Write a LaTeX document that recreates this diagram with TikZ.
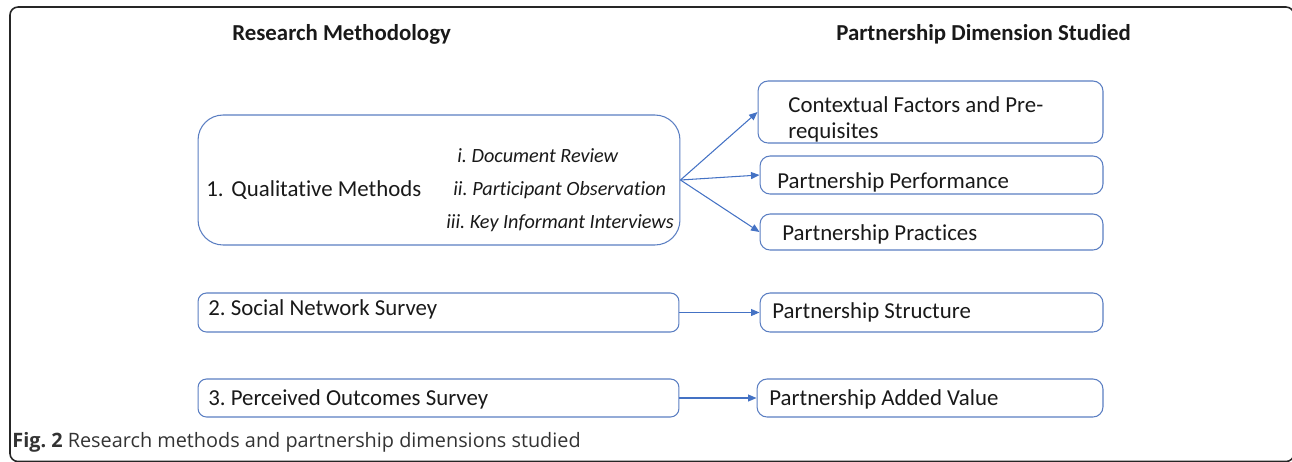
\documentclass[tikz,border=0pt]{standalone}
\usepackage{fontspec}
\setmainfont{Carlito}[RawFeature=-liga]
\newfontfamily\capfont{Open Sans}
\usetikzlibrary{arrows.meta}
\definecolor{boxblue}{HTML}{5A7EC2}
\definecolor{arrblue}{HTML}{4472C4}
\definecolor{captxt}{HTML}{333333}
\frenchspacing
\tikzset{
  box/.style={draw=boxblue, line width=0.6pt, rounded corners=0.2cm, inner sep=0pt},
  bigbox/.style={box, rounded corners=0.5cm},
  txt/.style={inner sep=0pt, anchor=base west, font=\fontsize{13}{15}\selectfont, text=black!90},
  itxt/.style={inner sep=0pt, anchor=base west, font=\fontsize{11.5}{13}\selectfont\itshape, text=black!90},
  head/.style={inner sep=0pt, anchor=base west, font=\fontsize{13}{15}\selectfont\bfseries, text=black!90},
  arr/.style={draw=arrblue, line width=0.6pt, -{Triangle[length=0.17cm,width=0.14cm]}},
}
\begin{document}
\begin{tikzpicture}[x=0.02cm, y=-0.02cm]
\useasboundingbox (0,0) rectangle (1292,461);
% outer frame
\draw[black!85, line width=0.9pt, rounded corners=0.16cm] (10,7) rectangle (1294,461.5);

% headers
\node[head] (h1) at (232,40) {Research Methodology};
\node[head] (h2) at (836,40) {Partnership Dimension Studied};

% left boxes
\node[bigbox, minimum width=9.64cm, minimum height=2.6cm] (Q) at (439,180) {};
\node[box, rounded corners=0.17cm, minimum width=9.62cm, minimum height=0.78cm] (SN) at (438.5,312.5) {};
\node[box, rounded corners=0.17cm, minimum width=9.62cm, minimum height=0.76cm] (PO) at (438.5,398) {};

% right boxes
\node[box, minimum width=6.9cm, minimum height=1.24cm] (C) at (930.5,112) {};
\node[box, minimum width=6.86cm, minimum height=0.76cm] (Perf) at (931.5,175) {};
\node[box, minimum width=6.86cm, minimum height=0.72cm] (Prac) at (931.5,232) {};
\node[box, minimum width=6.86cm, minimum height=0.78cm] (Str) at (931.5,312.5) {};
\node[box, minimum width=6.92cm, minimum height=0.76cm] (AV) at (930,398) {};

% texts
\node[txt] (tQ) at (206,196) {1.\kern1.5pt{} Qualitative Methods};
\node[itxt] (t1) at (457,162) {i. Document Review};
\node[itxt] (t2) at (453,195) {ii. Participant Observation};
\node[itxt] (t3) at (446,228) {iii. Key Informant Interviews};
\node[txt] (tC1) at (788,112) {Contextual Factors and Pre-};
\node[txt] (tC2) at (788,138) {requisites};
\node[txt] (tPerf) at (777,188) {Partnership Performance};
\node[txt] (tPrac) at (782,240) {Partnership Practices};
\node[txt] (tSN) at (208,315) {2. Social Network Survey};
\node[txt] (tStr) at (772,318) {Partnership Structure};
\node[txt] (tPO) at (208,405) {3. Perceived Outcomes Survey};
\node[txt] (tAV) at (769,405) {Partnership Added Value};

% arrows
\draw[arr] (Q.east) -- (C.west);
\draw[arr] (Q.east) -- (Perf.west);
\draw[arr] (Q.east) -- (Prac.west);
\draw[arr] (SN.east) -- (Str.west);
\draw[arr] (PO.east) -- (AV.west);

% caption
\node[inner sep=0pt, anchor=base west, font=\capfont\fontsize{11.3}{13}\selectfont, text=captxt] (cap) at (12,447) {\textbf{Fig. 2} Research methods and partnership dimensions studied};
\end{tikzpicture}
\end{document}
